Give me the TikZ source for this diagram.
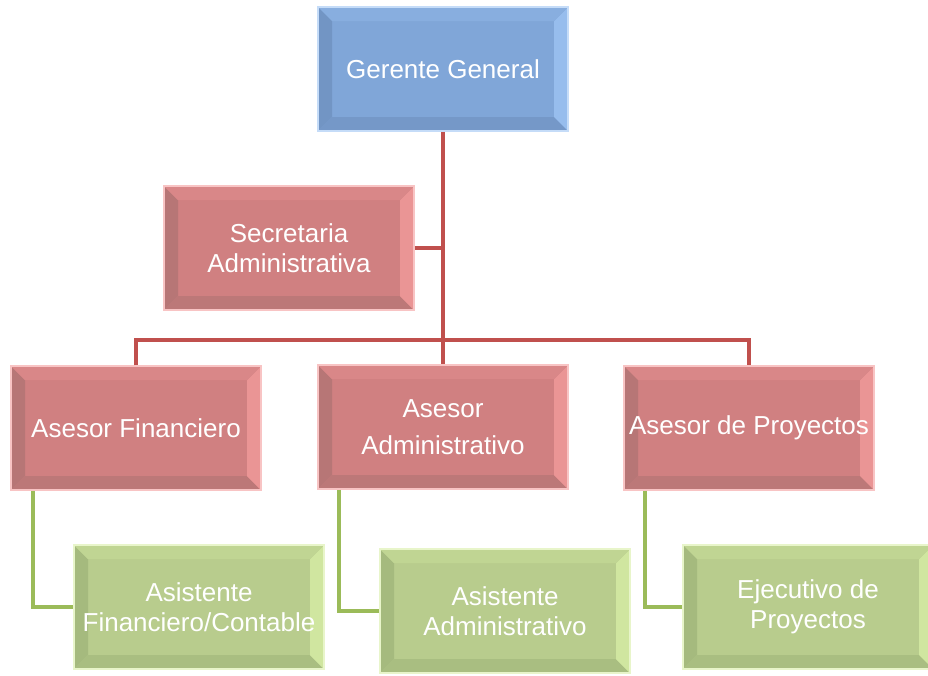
\documentclass[tikz,border=0pt]{standalone}
\usepackage{fontspec}
\setmainfont{Liberation Sans}
\usepackage{tikz}
\usetikzlibrary{calc, positioning}

\definecolor{azulM}{HTML}{80A6D8}
\definecolor{azulC}{HTML}{9FC5F4}
\definecolor{azulO}{HTML}{6E8FBD}
\definecolor{rojoM}{HTML}{D08081}
\definecolor{rojoC}{HTML}{F39C9C}
\definecolor{rojoO}{HTML}{AE7272}
\definecolor{verdeM}{HTML}{B8CC8D}
\definecolor{verdeC}{HTML}{D8EFA6}
\definecolor{verdeO}{HTML}{9FB479}
\definecolor{lineaR}{HTML}{C0504D}
\definecolor{lineaV}{HTML}{9BBB59}

\tikzset{
    bisel/.style n args={3}{rectangle, fill=#1, draw=#2!60!white, line width=1.5pt,
        minimum width=250pt, minimum height=124pt, inner sep=0pt,
        text=white, align=center, font=\fontsize{26}{29.5}\selectfont,
        path picture={
            \coordinate (pnw) at (path picture bounding box.north west);
            \coordinate (pne) at (path picture bounding box.north east);
            \coordinate (psw) at (path picture bounding box.south west);
            \coordinate (pse) at (path picture bounding box.south east);
            \fill[#3!75!#1] (pnw) -- (psw) -- ($(psw)+(14pt,14pt)$) -- ($(pnw)+(14pt,-14pt)$) -- cycle;
            \fill[#3!60!#1] (psw) -- (pse) -- ($(pse)+(-14pt,14pt)$) -- ($(psw)+(14pt,14pt)$) -- cycle;
            \fill[#2!75!#1] (pse) -- (pne) -- ($(pne)+(-14pt,-14pt)$) -- ($(pse)+(-14pt,14pt)$) -- cycle;
            \fill[#2!25!#1] (pne) -- (pnw) -- ($(pnw)+(14pt,-14pt)$) -- ($(pne)+(-14pt,-14pt)$) -- cycle;
        }},
    cajaA/.style={bisel={azulM}{azulC}{azulO}},
    cajaR/.style={bisel={rojoM}{rojoC}{rojoO}},
    cajaV/.style={bisel={verdeM}{verdeC}{verdeO}},
    lineaRoja/.style={draw=lineaR, line width=4pt},
    lineaVerde/.style={draw=lineaV, line width=4pt}
}

\begin{document}
\begin{tikzpicture}[x=1pt, y=-1pt]
\useasboundingbox (0,0) rectangle (928,675);

% nivel superior
\node[cajaA] (gg) at (443,69) {Gerente General};
\node[cajaR] (sa) at (289,248) {Secretaria\\Administrativa};

% asesores
\node[cajaR] (af) at (136,428) {Asesor Financiero};
\node[cajaR] (aa) at (443,427) {Asesor\\[8pt]Administrativo};
\node[cajaR] (ap) at (749,428) {Asesor de Proyectos};

% asistentes
\node[cajaV] (asf) at (199,607) {Asistente\\Financiero/Contable};
\node[cajaV] (asa) at (505,611) {Asistente\\Administrativo};
\node[cajaV] (ej) at (808,607) {Ejecutivo de\\Proyectos};

% conectores
\coordinate (barra) at (443,340);
\draw[lineaRoja] (gg.south) -- (aa.north);
\draw[lineaRoja] (sa.east) -- (sa.east -| gg.south);
\draw[lineaRoja] (af.north) |- (barra) -| (ap.north);

\draw[lineaVerde] ([xshift=23pt]af.south west) |- (asf.west);
\draw[lineaVerde] ([xshift=22pt]aa.south west) |- (asa.west);
\draw[lineaVerde] ([xshift=22pt]ap.south west) |- (ej.west);
\end{tikzpicture}
\end{document}
